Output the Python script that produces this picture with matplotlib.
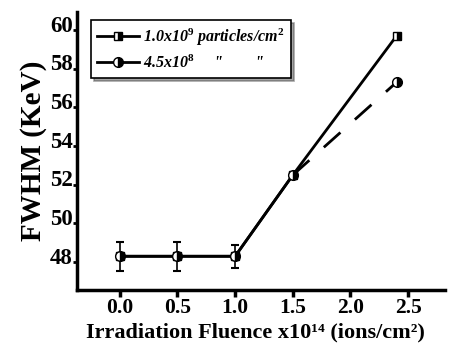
import numpy as np
import matplotlib
matplotlib.use("Agg")
import matplotlib.pyplot as plt
import matplotlib.transforms as mtransforms

# data
fluence = [0.0, 0.5, 1.0, 1.5, 2.4]
fwhm_1e9 = [48.3, 48.3, 48.3, 52.5, 59.7]
fwhm_45e8 = [48.3, 48.3, 48.3, 52.5, 57.3]
err_x = [0.0, 0.5, 1.0]
err_y = [48.3, 48.3, 48.3]
err_size = [0.75, 0.75, 0.6]
yticks = [48, 50, 52, 54, 56, 58, 60]
xticks = [0.0, 0.5, 1.0, 1.5, 2.0, 2.5]

plt.rcParams['font.family'] = ['Liberation Serif', 'DejaVu Serif']
plt.rcParams['mathtext.fontset'] = 'custom'
plt.rcParams['mathtext.rm'] = 'Liberation Serif:bold'
plt.rcParams['mathtext.it'] = 'Liberation Serif:bold:italic'
plt.rcParams['mathtext.bf'] = 'Liberation Serif:bold'

fig = plt.figure(figsize=(4.63, 3.47), dpi=100)
ax = fig.add_axes([0.166, 0.164, 0.795, 0.801])

# error bars on the low fluence points
ax.errorbar(err_x, err_y, yerr=err_size, fmt='none', ecolor='black',
            elinewidth=1.2, capsize=3, capthick=1.5, zorder=2)

# 1e9 series: solid line, half filled squares
ax.plot(fluence, fwhm_1e9, '-', color='black', lw=2, marker='s', markersize=6,
        fillstyle='right', markerfacecolor='black', markerfacecoloralt='white',
        markeredgecolor='black', markeredgewidth=1, zorder=3,
        label='1.0x10$^{9}$ particles/cm$^{2}$')

# 4.5e8 series: solid up to 1.5 then dashed
ax.plot(fluence[:4], fwhm_45e8[:4], '-', color='black', lw=2, zorder=3)
ax.plot(fluence[3:], fwhm_45e8[3:], '--', color='black', lw=2, dashes=(8, 7), zorder=3)
ax.plot(fluence, fwhm_45e8, 'none', marker='o', markersize=7,
        fillstyle='right', markerfacecolor='black', markerfacecoloralt='white',
        markeredgecolor='black', markeredgewidth=1, zorder=4)
# legend proxy for the circles
ax.plot([], [], '-', color='black', lw=2, marker='o', markersize=7,
        fillstyle='right', markerfacecolor='black', markerfacecoloralt='white',
        markeredgecolor='black', markeredgewidth=1,
        label='4.5x10$^{8}$     "        "')

ax.set_xlim(-0.373, 2.82)
ax.set_ylim(46.55, 60.93)
ax.set_xticks(xticks)
ax.set_yticks(yticks)
ax.set_xticklabels([f"{v:.1f}" for v in xticks])
ax.set_yticklabels([str(v) for v in yticks])

for s in ['top', 'right']:
    ax.spines[s].set_visible(False)
for s in ['left', 'bottom']:
    ax.spines[s].set_linewidth(2.5)

ax.tick_params(axis='x', direction='out', length=5, width=2.5, labelsize=15.5, pad=1)
ax.tick_params(axis='y', direction='out', length=3, width=2, labelsize=16.5, pad=0)
for lbl in ax.get_xticklabels() + ax.get_yticklabels():
    lbl.set_fontweight('bold')
# y labels sit a bit above their ticks in the original
shift = mtransforms.ScaledTranslation(0, 6.5 / 100, fig.dpi_scale_trans)
for lbl in ax.get_yticklabels():
    lbl.set_transform(lbl.get_transform() + shift)

ax.set_xlabel('Irradiation Fluence x10\u00b9\u2074 (ions/cm\u00b2)', fontsize=16,
              fontweight='bold')
ax.xaxis.set_label_coords(0.484, -0.115)
ax.set_ylabel('FWHM (KeV)', fontsize=21, fontweight='bold', labelpad=2)

leg = ax.legend(loc='upper left', bbox_to_anchor=(0.016, 1.0), frameon=True,
                fancybox=False, shadow=True, edgecolor='black', handlelength=2.6,
                borderpad=0.4, labelspacing=0.4, handletextpad=0.3,
                prop={'family': 'Liberation Serif', 'weight': 'bold',
                      'style': 'italic', 'size': 11.5})
leg.get_frame().set_linewidth(1.2)

fig.savefig('out.png', dpi=100)
